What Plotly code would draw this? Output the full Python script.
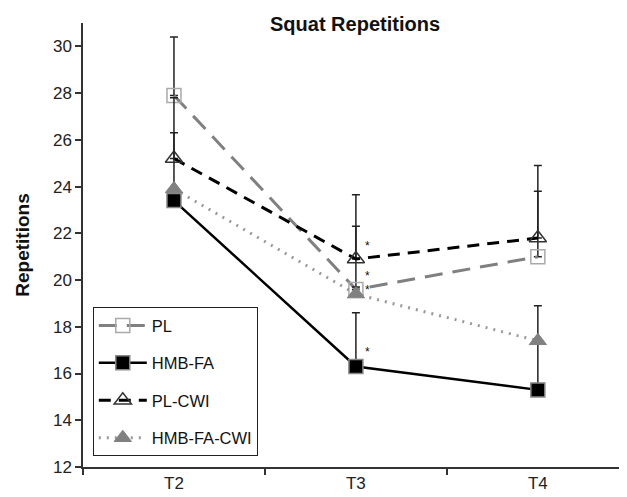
import plotly.graph_objects as go

timepoints = ["T2", "T3", "T4"]

pl = [27.9, 19.6, 21.0]
pl_err = [2.5, 2.7, 3.9]

hmb_fa = [23.4, 16.3, 15.3]
hmb_fa_err = [0.4, 2.3, 2.0]

pl_cwi = [25.2, 20.9, 21.8]
pl_cwi_err = [2.6, 2.75, 2.0]

hmb_fa_cwi = [23.9, 19.4, 17.4]
hmb_fa_cwi_err = [2.4, 0.3, 1.5]

star_x = ["T3", "T3", "T3", "T3"]
star_y = [21.6, 20.3, 19.7, 17.05]

yticks = [12, 14, 16, 18, 20, 22, 24, 26, 28, 30]

FONT = "Liberation Sans, Arial, sans-serif"

def err(vals):
    return dict(type="data", array=vals, arrayminus=[0] * len(vals), symmetric=False,
                color="#222222", thickness=1.5, width=4)

fig = go.Figure()

fig.add_trace(go.Scatter(
    x=timepoints, y=pl, name="PL", mode="lines+markers",
    line=dict(color="#808080", width=3, dash="18px,10px"),
    marker=dict(symbol="square-open", size=14, color="#aaaaaa", line=dict(width=1.5, color="#aaaaaa")),
    error_y=err(pl_err), legendgroup="a",
))
fig.add_trace(go.Scatter(
    x=timepoints, y=hmb_fa, name="HMB-FA", mode="lines+markers",
    line=dict(color="#000000", width=2.5),
    marker=dict(symbol="square", size=14, color="#000000", line=dict(width=1.5, color="#888888")),
    error_y=err(hmb_fa_err), legendgroup="b",
))
fig.add_trace(go.Scatter(
    x=timepoints, y=pl_cwi, name="PL-CWI", mode="lines+markers",
    line=dict(color="#000000", width=3, dash="12px,8px"),
    marker=dict(symbol="triangle-up-open", size=15, color="#333333", line=dict(width=1.5, color="#333333")),
    error_y=err(pl_cwi_err), legendgroup="c",
))
fig.add_trace(go.Scatter(
    x=timepoints, y=hmb_fa_cwi, name="HMB-FA-CWI", mode="lines+markers",
    line=dict(color="#999999", width=3, dash="2px,6px"),
    marker=dict(symbol="triangle-up", size=15, color="#808080", line=dict(width=1, color="#808080")),
    error_y=err(hmb_fa_cwi_err), legendgroup="d",
))

for sx, sy in zip(star_x, star_y):
    fig.add_annotation(x=sx, y=sy, text="*", showarrow=False, xshift=12, yshift=-3,
                       font=dict(family=FONT, size=12, color="#111111"))

fig.update_layout(
    width=619, height=489,
    margin=dict(l=75, r=0, t=15, b=30),
    paper_bgcolor="white", plot_bgcolor="white",
    font=dict(family=FONT, size=16, color="#222222"),
    title=dict(text="<b>Squat Repetitions</b>", x=0.5606, xanchor="center", y=0.967, yanchor="middle",
               font=dict(family=FONT, size=20, color="#111111")),
    showlegend=True,
    legend=dict(x=0.018, xanchor="left", y=0.36, yanchor="top",
                bgcolor="white", bordercolor="#222222", borderwidth=1,
                font=dict(family=FONT, size=16.5, color="#111111"),
                traceorder="grouped", tracegroupgap=13, itemwidth=48),
)

fig.update_xaxes(
    type="category", range=[-0.5, 2.49], showgrid=False, zeroline=False,
    showline=True, linecolor="#333333", linewidth=1.5,
    ticks="outside", tickson="boundaries", ticklen=6, tickcolor="#333333", tickwidth=1.5,
    tickfont=dict(family=FONT, size=17, color="#222222"), automargin=False,
)
fig.update_yaxes(
    range=[12, 31], tickvals=yticks, showgrid=False, zeroline=False,
    showline=True, linecolor="#333333", linewidth=1.5,
    ticks="outside", ticklen=6, tickcolor="#333333", tickwidth=1.5,
    tickfont=dict(family=FONT, size=17, color="#222222"), automargin=False,
    title=dict(text="<b>Repetitions</b>", font=dict(family=FONT, size=19, color="#111111"), standoff=18),
)

fig.write_html("out.html")
